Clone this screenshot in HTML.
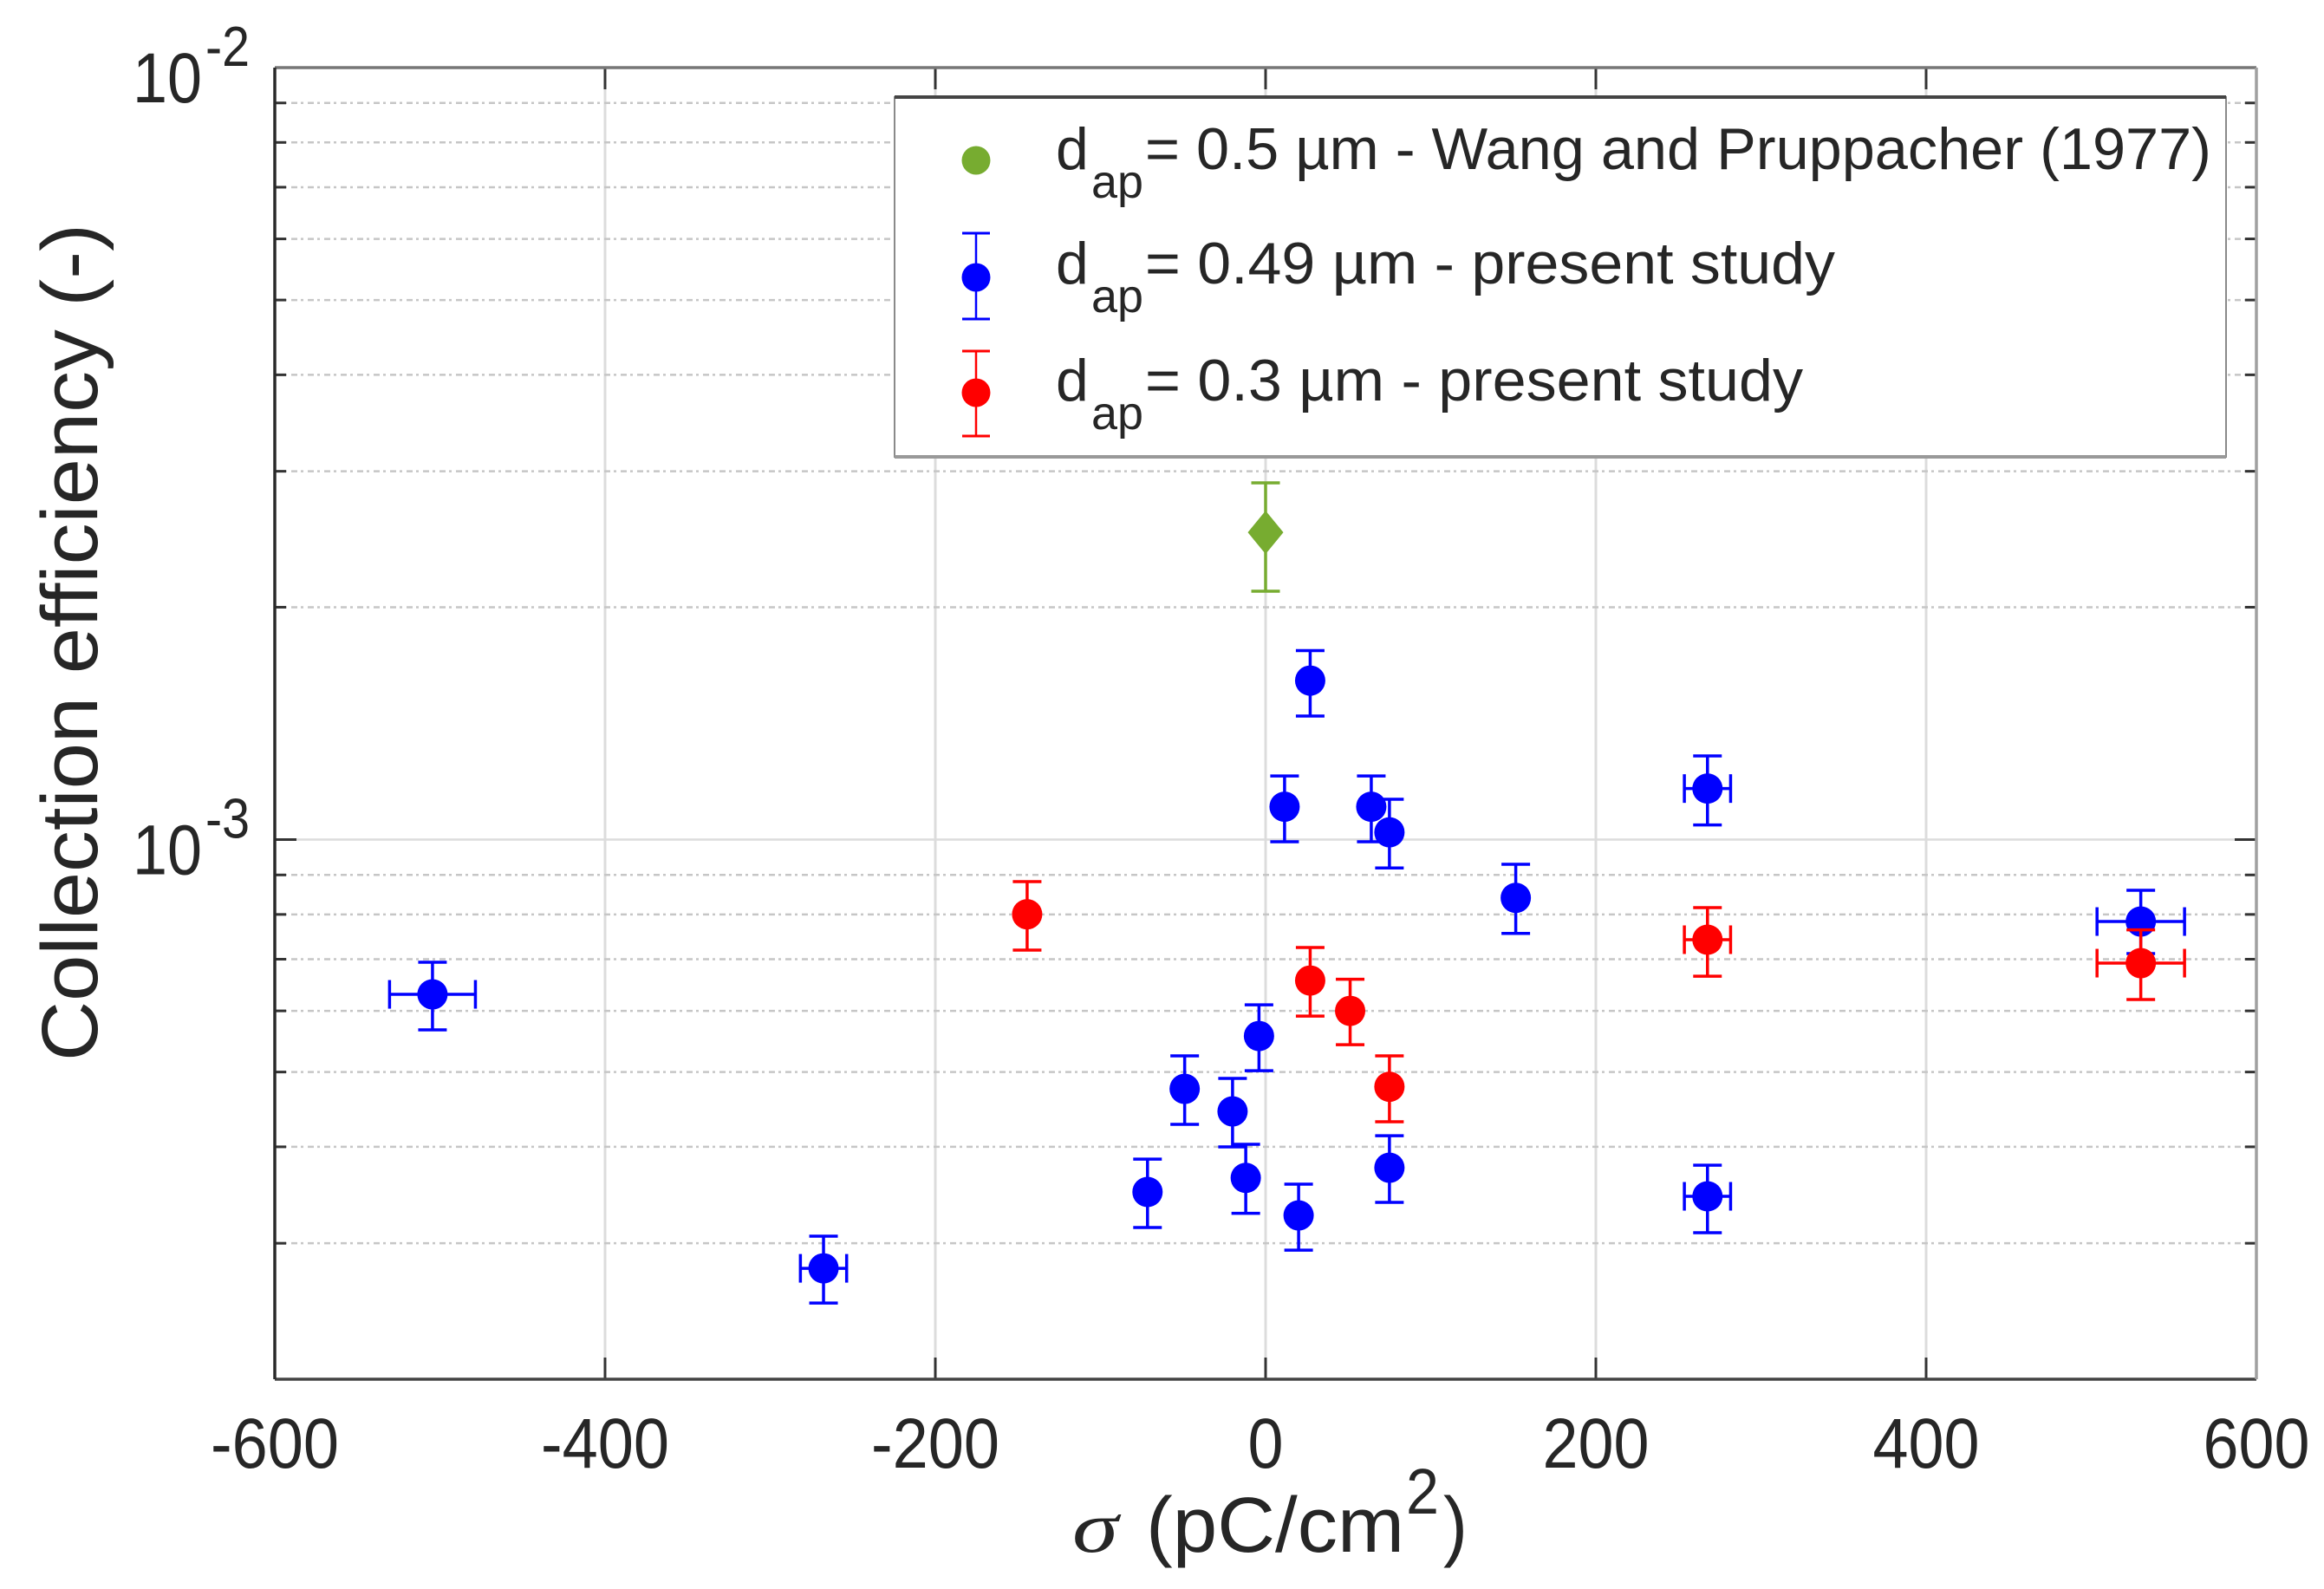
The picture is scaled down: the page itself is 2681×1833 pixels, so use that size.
<!DOCTYPE html>
<html lang="en">
<head>
<meta charset="utf-8">
<title>Collection efficiency vs surface charge density</title>
<style>
  html, body { margin: 0; padding: 0; background: #fff; }
  svg { display: block; }
  text { font-family: "Liberation Sans", sans-serif; fill: #262626; }
</style>
</head>
<body>
<svg id="chart" xmlns="http://www.w3.org/2000/svg" width="2681" height="1833" viewBox="0 0 2681 1833">
  <rect x="0" y="0" width="2681" height="1833" fill="#ffffff"/>
  <g id="grid"></g>
  <g id="axes"></g>
  <g id="series"></g>

  <g>
    <rect x="1032" y="112" width="1536" height="415" fill="#ffffff" stroke="#8a8a8a" stroke-width="2"/>
    <line x1="1032" x2="2568" y1="112" y2="112" stroke="#444444" stroke-width="4"/>
    <line x1="1032" x2="2568" y1="527" y2="527" stroke="#999999" stroke-width="4"/>

    <g>
      <circle cx="1126" cy="185" r="16.5" fill="#77ac30"/>
      <text x="1218" y="195" font-size="68" fill="#111">d</text>
      <text x="1259" y="228" font-size="54" textLength="60" lengthAdjust="spacingAndGlyphs" fill="#111">ap</text>
      <text x="1321" y="195" font-size="68" textLength="1230" lengthAdjust="spacingAndGlyphs" fill="#111">= 0.5 µm - Wang and Pruppacher (1977)</text>
    </g>

    <g>
      <line x1="1126" x2="1126" y1="269" y2="368" stroke="#0000ff" stroke-width="2.5"/>
      <line x1="1110" x2="1142" y1="269" y2="269" stroke="#0000ff" stroke-width="3"/>
      <line x1="1110" x2="1142" y1="368" y2="368" stroke="#0000ff" stroke-width="3"/>
      <circle cx="1126" cy="320" r="16.5" fill="#0000ff"/>
      <text x="1218" y="327" font-size="68" fill="#111">d</text>
      <text x="1259" y="360" font-size="54" textLength="60" lengthAdjust="spacingAndGlyphs" fill="#111">ap</text>
      <text x="1321" y="327" font-size="68" textLength="796" lengthAdjust="spacingAndGlyphs" fill="#111">= 0.49 µm - present study</text>
    </g>

    <g>
      <line x1="1126" x2="1126" y1="405" y2="503" stroke="#ff0000" stroke-width="2.5"/>
      <line x1="1110" x2="1142" y1="405" y2="405" stroke="#ff0000" stroke-width="3"/>
      <line x1="1110" x2="1142" y1="503" y2="503" stroke="#ff0000" stroke-width="3"/>
      <circle cx="1126" cy="453" r="16.5" fill="#ff0000"/>
      <text x="1218" y="462" font-size="68" fill="#111">d</text>
      <text x="1259" y="495" font-size="54" textLength="60" lengthAdjust="spacingAndGlyphs" fill="#111">ap</text>
      <text x="1321" y="462" font-size="68" textLength="759" lengthAdjust="spacingAndGlyphs" fill="#111">= 0.3 µm - present study</text>
    </g>
  </g>

  <text transform="translate(112 1224) rotate(-90)" font-size="92" textLength="966" lengthAdjust="spacingAndGlyphs">Collection efficiency (-)</text>

  <g>
    <text x="1237" y="1790" font-size="84" font-style="italic" textLength="53" lengthAdjust="spacingAndGlyphs" style="font-family:'Liberation Serif',serif">σ</text>
    <text x="1322" y="1790" font-size="90" textLength="298" lengthAdjust="spacingAndGlyphs">(pC/cm</text>
    <text x="1622" y="1746" font-size="74" textLength="38" lengthAdjust="spacingAndGlyphs">2</text>
    <text x="1665" y="1790" font-size="90" textLength="28" lengthAdjust="spacingAndGlyphs">)</text>
  </g>
</svg>

<script>
// ---- Chart data ----
const xTickValues = [-600, -400, -200, 0, 200, 400, 600];
const yDecadeValues = [0.01, 0.001];
const yDecadeExponents = ['-2', '-3'];
const yMinorValues = [0.009, 0.008, 0.007, 0.006, 0.005, 0.004, 0.003, 0.002,
                      0.0009, 0.0008, 0.0007, 0.0006, 0.0005, 0.0004, 0.0003];

const greenX = [0];
const greenY = [0.00250];
const greenHigh = [0.002898];
const greenLow = [0.002098];

const blueX = [27, 11.5, 64, 75, 151.5, -4, -49, -20, -12, -71.5, 20, 75, 267.6, 267.6, 530, -267.7, -504.5];
const blueY = [0.001607, 0.001103, 0.001103, 0.001022, 0.0008405, 0.0005567, 0.0004755, 0.0004446, 0.0003646, 0.0003496, 0.000326, 0.0003758, 0.0011645, 0.0003451, 0.0007832, 0.0002784, 0.0006303];
const blueHigh = [0.001757, 0.001209, 0.001209, 0.001128, 0.000929, 0.000611, 0.0005246, 0.0004905, 0.000403, 0.0003856, 0.0003578, 0.0004135, 0.0012834, 0.0003787, 0.0008596, 0.0003064, 0.0006936];
const blueLow = [0.0014455, 0.0009936, 0.0009936, 0.000919, 0.000756, 0.000502, 0.0004277, 0.0003999, 0.000328, 0.0003144, 0.0002939, 0.0003389, 0.0010447, 0.0003096, 0.0007118, 0.000251, 0.0005669];
const blueXErr = [0, 0, 0, 0, 0, 0, 0, 0, 0, 0, 0, 0, 14, 14, 26.5, 14, 26];

const redX = [-144.4, 27, 51.2, 75, 267.6, 530];
const redY = [0.0008004, 0.0006569, 0.0006, 0.0004785, 0.0007419, 0.0006918];
const redHigh = [0.0008821, 0.0007248, 0.0006593, 0.0005246, 0.0008163, 0.000764];
const redLow = [0.0007192, 0.0005908, 0.0005425, 0.000431, 0.0006654, 0.0006206];
const redXErr = [0, 0, 0, 0, 14, 26.5];

// ---- Axis functions ----
const plotLeft = 317, plotRight = 2603, plotTop = 78, plotBottom = 1591;
const xMin = -600, xMax = 600, yMinLog = Math.log10(0.0002), yMaxLog = Math.log10(0.01);
function xScale(v) { return plotLeft + (v - xMin) / (xMax - xMin) * (plotRight - plotLeft); }
function yScale(v) { return plotBottom - (Math.log10(v) - yMinLog) / (yMaxLog - yMinLog) * (plotBottom - plotTop); }

const NS = 'http://www.w3.org/2000/svg';
function makeLine(parent, x1, y1, x2, y2, stroke, width, dash) {
  const el = document.createElementNS(NS, 'line');
  el.setAttribute('x1', x1);
  el.setAttribute('y1', y1);
  el.setAttribute('x2', x2);
  el.setAttribute('y2', y2);
  el.setAttribute('stroke', stroke);
  el.setAttribute('stroke-width', width);
  if (dash) el.setAttribute('stroke-dasharray', dash);
  parent.appendChild(el);
  return el;
}
function makeText(parent, x, y, size, str, anchor, len) {
  const el = document.createElementNS(NS, 'text');
  el.setAttribute('x', x);
  el.setAttribute('y', y);
  el.setAttribute('font-size', size);
  if (anchor) el.setAttribute('text-anchor', anchor);
  if (len) {
    el.setAttribute('textLength', len);
    el.setAttribute('lengthAdjust', 'spacingAndGlyphs');
  }
  el.textContent = str;
  parent.appendChild(el);
  return el;
}

const gridG = document.getElementById('grid');
const axesG = document.getElementById('axes');
const seriesG = document.getElementById('series');

// ---- Grid ----
xTickValues.slice(1, -1).forEach(function (v) {
  const l = makeLine(gridG, xScale(v), plotTop, xScale(v), plotBottom, '#dcdcdc', 3);
  
  
});
yDecadeValues.slice(1).forEach(function (v) {
  const l = makeLine(gridG, plotLeft, yScale(v), plotRight, yScale(v), '#dcdcdc', 2.5);
  
  
});
yMinorValues.forEach(function (v) {
  const l = makeLine(gridG, plotLeft, yScale(v), plotRight, yScale(v), '#c6c6c6', 2.5, '7 4 3 5');
  
  
});

// ---- Ticks and labels ----
xTickValues.forEach(function (v) {
  const bt = makeLine(axesG, xScale(v), plotBottom, xScale(v), plotBottom - 25, '#333333', 3);
  
  
  const tt = makeLine(axesG, xScale(v), plotTop, xScale(v), plotTop + 25, '#333333', 3);
  
  
  const str = String(v);
  const width = (v < 0 ? 25 : 0) + (str.replace('-', '').length) * 41;
  const lab = makeText(axesG, xScale(v), 1693, 82, str, 'middle', width);
  
  
});
yDecadeValues.forEach(function (v, i) {
  const lt = makeLine(axesG, plotLeft, yScale(v), plotLeft + 25, yScale(v), '#333333', 3);
  
  
  const rt = makeLine(axesG, plotRight, yScale(v), plotRight - 25, yScale(v), '#333333', 3);
  
  
  const base = makeText(axesG, 153, yScale(v) + 40, 82, '10', null, 80);
  
  
  const sup = makeText(axesG, 237, yScale(v) - 2, 65, yDecadeExponents[i], null, 51);
  
  
});
yMinorValues.forEach(function (v) {
  const lt = makeLine(axesG, plotLeft, yScale(v), plotLeft + 13, yScale(v), '#333333', 3);
  
  
  const rt = makeLine(axesG, plotRight, yScale(v), plotRight - 13, yScale(v), '#333333', 3);
  
  
});

// ---- Axes frame ----
const frameTop = makeLine(axesG, plotLeft, plotTop, plotRight, plotTop, '#777777', 3.5);


const frameBottom = makeLine(axesG, plotLeft, plotBottom, plotRight, plotBottom, '#444444', 3.5);


const frameLeft = makeLine(axesG, plotLeft, plotTop, plotLeft, plotBottom, '#2a2a2a', 3.5);


const frameRight = makeLine(axesG, plotRight, plotTop, plotRight, plotBottom, '#a0a0a0', 3.5);



// ---- Series ----
function drawSeries(name, color, xs, ys, highs, lows, xErrs, diamond) {
  const capHalf = 16.5;
  xs.forEach(function (xv, i) {
    const g = document.createElementNS(NS, 'g');
    
    
    seriesG.appendChild(g);
    const cx = xScale(xv), cy = yScale(ys[i]);
    const top = yScale(highs[i]), bot = yScale(lows[i]);
    const v = makeLine(g, cx, top, cx, bot, color, 3.5);
    
    
    const c1 = makeLine(g, cx - capHalf, top, cx + capHalf, top, color, 3.5);
    
    
    const c2 = makeLine(g, cx - capHalf, bot, cx + capHalf, bot, color, 3.5);
    
    
    if (xErrs && xErrs[i] > 0) {
      const l = xScale(xv - xErrs[i]), r = xScale(xv + xErrs[i]);
      const h = makeLine(g, l, cy, r, cy, color, 3.5);
      
      
      const c3 = makeLine(g, l, cy - capHalf, l, cy + capHalf, color, 3.5);
      
      
      const c4 = makeLine(g, r, cy - capHalf, r, cy + capHalf, color, 3.5);
      
      
    }
    if (diamond) {
      const p = document.createElementNS(NS, 'polygon');
      p.setAttribute('points', [cx, cy - 25, cx + 20.5, cy, cx, cy + 25, cx - 20.5, cy].join(' '));
      p.setAttribute('fill', color);
      
      
      g.appendChild(p);
    } else {
      const m = document.createElementNS(NS, 'circle');
      m.setAttribute('cx', cx);
      m.setAttribute('cy', cy);
      m.setAttribute('r', 17.5);
      m.setAttribute('fill', color);
      
      
      g.appendChild(m);
    }
  });
}
drawSeries('wang-pruppacher', '#77ac30', greenX, greenY, greenHigh, greenLow, null, true);
drawSeries('dap-049', '#0000ff', blueX, blueY, blueHigh, blueLow, blueXErr, false);
drawSeries('dap-03', '#ff0000', redX, redY, redHigh, redLow, redXErr, false);
</script>
</body>
</html>
